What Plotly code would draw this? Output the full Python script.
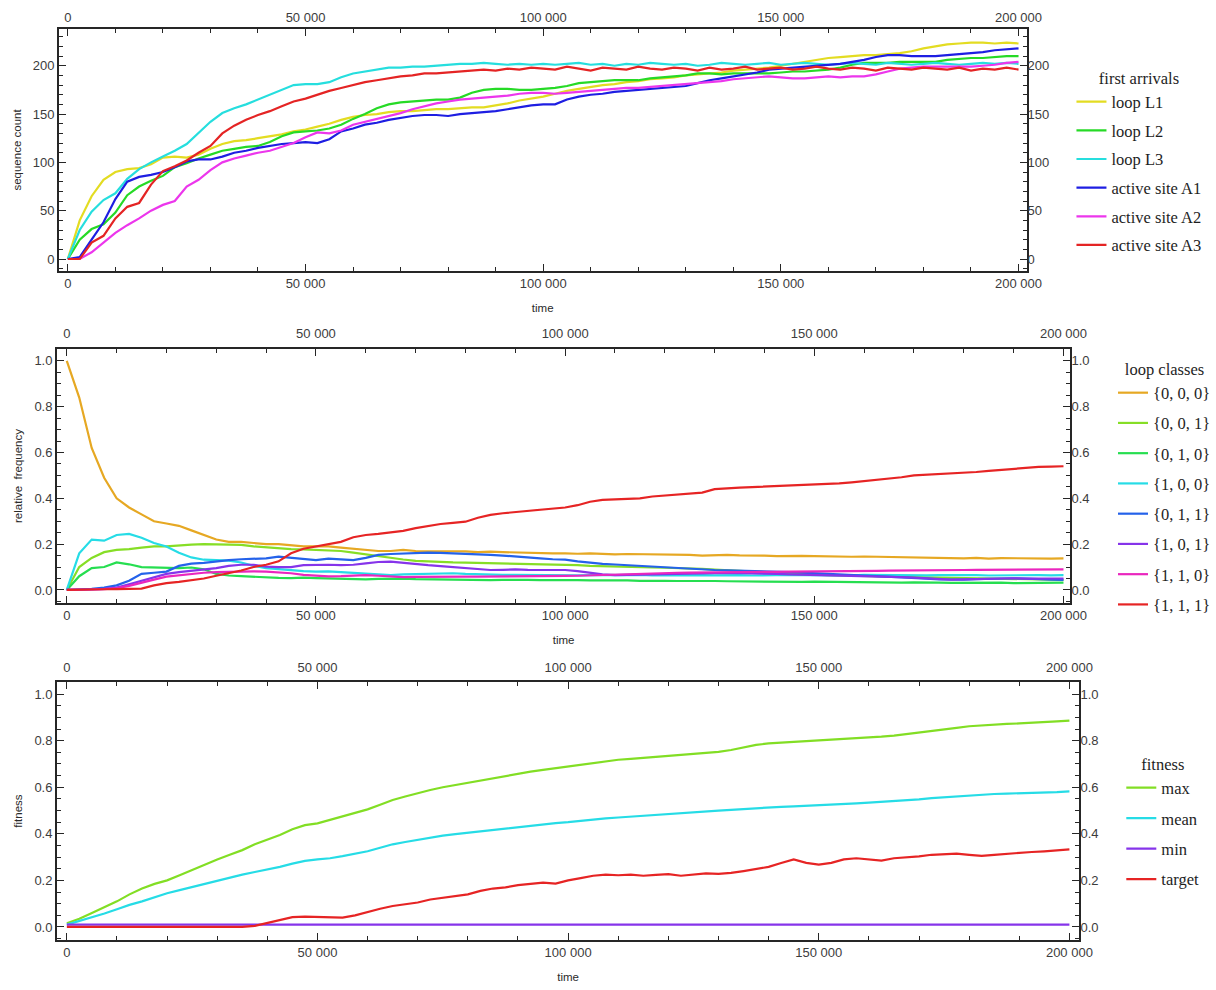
import plotly.graph_objects as go

# ---------------------------------------------------------------- data
TIME = list(range(0, 200001, 2500))

# panel 1: first arrivals (sequence count)
LOOP_L1 = [0, 40, 65, 82, 90, 93, 94, 98, 105, 106, 105, 108, 114, 119, 122, 123, 125, 127, 129, 132,
           134, 137, 140, 144, 147, 149, 150, 152, 153, 153, 154, 155, 155, 156, 157, 157, 159, 161, 164, 166,
           168, 171, 174, 176, 178, 180, 181, 183, 184, 186, 187, 188, 190, 191, 192, 193, 195, 196, 197, 198,
           200, 202, 204, 206, 208, 209, 210, 211, 211, 212, 213, 215, 218, 220, 222, 223, 224, 224, 223, 224,
           223]
LOOP_L2 = [0, 20, 31, 36, 48, 66, 75, 81, 86, 95, 99, 104, 108, 112, 114, 116, 117, 121, 127, 131,
           132, 133, 135, 139, 145, 150, 156, 160, 162, 163, 164, 165, 165, 167, 172, 175, 176, 176, 175, 175,
           176, 177, 179, 182, 183, 184, 185, 185, 185, 187, 188, 189, 190, 192, 192, 191, 192, 192, 192, 192,
           193, 194, 194, 195, 196, 198, 201, 203, 203, 203, 204, 204, 204, 204, 206, 207, 208, 208, 209, 210,
           210]
LOOP_L3 = [0, 30, 49, 61, 68, 83, 93, 100, 106, 112, 119, 130, 142, 151, 156, 160, 165, 170, 175, 180,
           181, 181, 183, 188, 192, 194, 196, 198, 198, 199, 199, 200, 201, 202, 202, 203, 202, 201, 202, 201,
           202, 201, 202, 203, 201, 202, 200, 202, 201, 203, 202, 201, 202, 200, 201, 203, 202, 201, 202, 203,
           201, 202, 203, 202, 201, 202, 203, 202, 201, 203, 202, 201, 202, 203, 202, 201, 202, 203, 202, 203,
           202]
SITE_A1 = [0, 2, 20, 38, 62, 80, 85, 87, 90, 95, 101, 103, 103, 106, 110, 112, 115, 117, 119, 120,
           121, 120, 124, 132, 135, 139, 141, 144, 146, 148, 149, 149, 148, 150, 151, 152, 153, 155, 157, 159,
           160, 160, 165, 168, 170, 171, 173, 174, 175, 176, 177, 178, 179, 182, 185, 187, 189, 191, 193, 196,
           197, 198, 199, 200, 201, 202, 204, 206, 209, 211, 211, 210, 210, 210, 211, 212, 213, 214, 216, 217,
           218]
SITE_A2 = [0, 0, 7, 17, 27, 35, 42, 50, 56, 60, 75, 82, 92, 100, 104, 107, 110, 112, 116, 120,
           126, 131, 130, 133, 139, 142, 145, 148, 151, 155, 158, 161, 163, 165, 166, 167, 168, 169, 171, 172,
           172, 171, 172, 173, 174, 175, 176, 177, 177, 178, 179, 180, 181, 182, 183, 184, 186, 187, 188, 189,
           188, 187, 187, 188, 189, 188, 189, 189, 191, 194, 197, 198, 199, 199, 199, 199, 199, 200, 201, 203,
           204]
SITE_A3 = [0, 0, 17, 24, 42, 54, 58, 77, 91, 96, 102, 110, 117, 130, 138, 144, 149, 153, 158, 163,
           166, 170, 174, 177, 180, 183, 185, 187, 189, 190, 192, 192, 193, 194, 195, 196, 195, 197, 196, 198,
           197, 196, 199, 197, 195, 198, 197, 196, 199, 197, 196, 198, 197, 195, 198, 196, 197, 199, 196, 197,
           198, 196, 197, 199, 197, 196, 198, 197, 195, 198, 197, 196, 198, 197, 196, 198, 195, 197, 196, 198,
           196]

# panel 2: loop classes (relative frequency)
C000 = [1.00, 0.84, 0.62, 0.49, 0.40, 0.36, 0.33, 0.30, 0.29, 0.28, 0.26, 0.24, 0.22, 0.21, 0.21, 0.205,
        0.20, 0.20, 0.195, 0.19, 0.19, 0.19, 0.185, 0.18, 0.175, 0.17, 0.17, 0.175, 0.17, 0.17, 0.168, 0.17,
        0.168, 0.165, 0.167, 0.165, 0.163, 0.162, 0.16, 0.16, 0.16, 0.158, 0.16, 0.157, 0.155, 0.157, 0.156,
        0.155, 0.157, 0.154, 0.153, 0.15, 0.152, 0.153, 0.151, 0.152, 0.15, 0.148, 0.15, 0.149, 0.148, 0.146,
        0.147, 0.145, 0.146, 0.145, 0.143, 0.145, 0.142, 0.143, 0.14, 0.141, 0.138, 0.14, 0.137, 0.139, 0.138,
        0.136, 0.138, 0.137, 0.138]
C001 = [0.0, 0.10, 0.14, 0.165, 0.175, 0.178, 0.185, 0.19, 0.19, 0.195, 0.198, 0.20, 0.20, 0.20, 0.197,
        0.19, 0.185, 0.18, 0.178, 0.177, 0.175, 0.175, 0.17, 0.163, 0.155, 0.148, 0.14, 0.133, 0.127, 0.124,
        0.122, 0.12, 0.119, 0.118, 0.116, 0.115, 0.114, 0.113, 0.112, 0.11, 0.11, 0.108, 0.105, 0.103, 0.101,
        0.10, 0.099, 0.098, 0.097, 0.096, 0.095, 0.092, 0.089, 0.086, 0.083, 0.081, 0.079, 0.076, 0.073, 0.07,
        0.067, 0.065, 0.064, 0.062, 0.061, 0.059, 0.058, 0.057, 0.056, 0.055, 0.054, 0.053, 0.052, 0.051,
        0.05, 0.049, 0.048, 0.047, 0.046, 0.045, 0.044]
C010 = [0.0, 0.06, 0.095, 0.10, 0.12, 0.112, 0.10, 0.098, 0.096, 0.095, 0.098, 0.09, 0.07, 0.063, 0.06,
        0.057, 0.055, 0.053, 0.052, 0.054, 0.052, 0.05, 0.047, 0.045, 0.046, 0.048, 0.05, 0.049, 0.047, 0.046,
        0.045, 0.044, 0.045, 0.044, 0.043, 0.044, 0.045, 0.044, 0.043, 0.044, 0.044, 0.043, 0.042, 0.043,
        0.041, 0.042, 0.040, 0.041, 0.040, 0.039, 0.040, 0.038, 0.039, 0.038, 0.037, 0.038, 0.036, 0.037,
        0.036, 0.035, 0.036, 0.035, 0.034, 0.035, 0.033, 0.034, 0.033, 0.032, 0.033, 0.031, 0.032, 0.031,
        0.032, 0.030, 0.031, 0.032, 0.030, 0.031, 0.030, 0.031, 0.032]
C100 = [0.0, 0.16, 0.22, 0.215, 0.24, 0.245, 0.228, 0.205, 0.19, 0.162, 0.142, 0.132, 0.13, 0.128, 0.12,
        0.105, 0.095, 0.09, 0.087, 0.082, 0.08, 0.081, 0.078, 0.075, 0.073, 0.068, 0.065, 0.068, 0.07, 0.072,
        0.073, 0.073, 0.07, 0.068, 0.067, 0.066, 0.066, 0.065, 0.066, 0.065, 0.065, 0.064, 0.065, 0.066,
        0.064, 0.065, 0.066, 0.064, 0.065, 0.064, 0.066, 0.065, 0.064, 0.066, 0.065, 0.063, 0.065, 0.064,
        0.066, 0.065, 0.064, 0.063, 0.065, 0.064, 0.066, 0.065, 0.064, 0.065, 0.063, 0.064, 0.065, 0.066,
        0.064, 0.065, 0.063, 0.064, 0.065, 0.066, 0.065, 0.064, 0.065]
C011 = [0.0, 0.002, 0.005, 0.01, 0.02, 0.04, 0.07, 0.075, 0.08, 0.105, 0.115, 0.118, 0.125, 0.13, 0.134,
        0.136, 0.138, 0.145, 0.14, 0.132, 0.13, 0.137, 0.135, 0.13, 0.14, 0.153, 0.157, 0.16, 0.162, 0.163,
        0.162, 0.16, 0.16, 0.157, 0.153, 0.15, 0.147, 0.142, 0.138, 0.134, 0.132, 0.125, 0.118, 0.114, 0.111,
        0.108, 0.104, 0.10, 0.098, 0.096, 0.094, 0.09, 0.087, 0.086, 0.085, 0.084, 0.083, 0.08, 0.078, 0.076,
        0.074, 0.072, 0.07, 0.066, 0.063, 0.06, 0.058, 0.055, 0.052, 0.049, 0.046, 0.044, 0.045, 0.047, 0.049,
        0.05, 0.051, 0.049, 0.046, 0.045, 0.044]
C101 = [0.0, 0.0, 0.002, 0.005, 0.01, 0.025, 0.04, 0.055, 0.07, 0.078, 0.084, 0.088, 0.095, 0.105, 0.11,
        0.11, 0.102, 0.10, 0.10, 0.108, 0.11, 0.11, 0.108, 0.11, 0.116, 0.122, 0.124, 0.118, 0.112, 0.108,
        0.104, 0.10, 0.095, 0.09, 0.087, 0.088, 0.09, 0.088, 0.087, 0.088, 0.087, 0.082, 0.075, 0.068, 0.065,
        0.066, 0.068, 0.07, 0.072, 0.073, 0.073, 0.072, 0.073, 0.074, 0.073, 0.073, 0.072, 0.07, 0.068, 0.067,
        0.066, 0.065, 0.064, 0.062, 0.06, 0.059, 0.058, 0.056, 0.054, 0.05, 0.047, 0.045, 0.046, 0.048, 0.05,
        0.052, 0.051, 0.049, 0.05, 0.051, 0.05]
C110 = [0.0, 0.0, 0.002, 0.004, 0.008, 0.018, 0.03, 0.045, 0.058, 0.064, 0.07, 0.075, 0.078, 0.08, 0.08,
        0.081, 0.08, 0.077, 0.073, 0.066, 0.063, 0.059, 0.06, 0.064, 0.065, 0.062, 0.058, 0.056, 0.057, 0.058,
        0.058, 0.057, 0.058, 0.058, 0.058, 0.059, 0.06, 0.06, 0.061, 0.061, 0.061, 0.062, 0.064, 0.065, 0.067,
        0.068, 0.07, 0.071, 0.073, 0.075, 0.076, 0.076, 0.077, 0.077, 0.078, 0.078, 0.079, 0.079, 0.08, 0.08,
        0.08, 0.081, 0.081, 0.082, 0.082, 0.083, 0.084, 0.084, 0.085, 0.086, 0.086, 0.087, 0.087, 0.088,
        0.088, 0.089, 0.089, 0.09, 0.089, 0.09, 0.09]
C111 = [0.0, 0.0, 0.002, 0.003, 0.004, 0.005, 0.006, 0.02, 0.03, 0.035, 0.042, 0.05, 0.062, 0.072, 0.085,
        0.10, 0.11, 0.125, 0.16, 0.18, 0.19, 0.20, 0.21, 0.23, 0.24, 0.245, 0.252, 0.258, 0.27, 0.28, 0.288,
        0.293, 0.298, 0.315, 0.328, 0.335, 0.34, 0.347, 0.35, 0.355, 0.36, 0.37, 0.385, 0.393, 0.395, 0.398,
        0.40, 0.408, 0.413, 0.418, 0.42, 0.425, 0.44, 0.445, 0.447, 0.449, 0.451, 0.454, 0.456, 0.458, 0.46,
        0.462, 0.465, 0.47, 0.475, 0.48, 0.487, 0.492, 0.50, 0.503, 0.505, 0.508, 0.51, 0.515, 0.52, 0.525,
        0.53, 0.533, 0.537, 0.538, 0.54]

# panel 3: fitness
FIT_MAX = [0.016, 0.035, 0.06, 0.085, 0.11, 0.14, 0.165, 0.185, 0.20, 0.222, 0.245, 0.27, 0.29, 0.31, 0.33,
           0.355, 0.375, 0.395, 0.42, 0.437, 0.445, 0.46, 0.475, 0.49, 0.505, 0.525, 0.545, 0.56, 0.575, 0.588,
           0.60, 0.61, 0.62, 0.63, 0.64, 0.65, 0.66, 0.667, 0.675, 0.682, 0.69, 0.697, 0.705, 0.713, 0.718,
           0.722, 0.726, 0.73, 0.733, 0.738, 0.742, 0.746, 0.752, 0.76, 0.772, 0.782, 0.788, 0.791, 0.795,
           0.798, 0.80, 0.803, 0.806, 0.81, 0.813, 0.817, 0.822, 0.828, 0.835, 0.842, 0.848, 0.855, 0.862,
           0.866, 0.869, 0.872, 0.874, 0.876, 0.879, 0.883, 0.886]
FIT_MEAN = [0.01, 0.025, 0.04, 0.058, 0.076, 0.095, 0.11, 0.128, 0.145, 0.158, 0.172, 0.186, 0.20, 0.213,
            0.225, 0.236, 0.246, 0.258, 0.272, 0.284, 0.29, 0.295, 0.304, 0.315, 0.325, 0.34, 0.355, 0.365,
            0.375, 0.385, 0.392, 0.399, 0.405, 0.412, 0.418, 0.425, 0.43, 0.436, 0.441, 0.446, 0.45, 0.456,
            0.462, 0.466, 0.47, 0.474, 0.478, 0.483, 0.487, 0.49, 0.494, 0.497, 0.50, 0.503, 0.507, 0.51, 0.513,
            0.516, 0.518, 0.52, 0.522, 0.525, 0.528, 0.531, 0.534, 0.537, 0.54, 0.544, 0.548, 0.553, 0.557,
            0.562, 0.566, 0.569, 0.571, 0.573, 0.574, 0.575, 0.577, 0.579, 0.582]
FIT_MIN = [0.01, 0.01, 0.01, 0.01, 0.01, 0.01, 0.01, 0.01, 0.01, 0.01, 0.01, 0.01, 0.01, 0.01, 0.01, 0.01,
           0.01, 0.01, 0.01, 0.01, 0.01, 0.01, 0.01, 0.01, 0.01, 0.01, 0.01, 0.01, 0.01, 0.01, 0.01, 0.01,
           0.01, 0.01, 0.01, 0.01, 0.01, 0.01, 0.01, 0.01, 0.01, 0.01, 0.01, 0.01, 0.01, 0.01, 0.01, 0.01,
           0.01, 0.01, 0.01, 0.01, 0.01, 0.01, 0.01, 0.01, 0.01, 0.01, 0.01, 0.01, 0.01, 0.01, 0.01, 0.01,
           0.01, 0.01, 0.01, 0.01, 0.01, 0.01, 0.01, 0.01, 0.01, 0.01, 0.01, 0.01, 0.01, 0.01, 0.01, 0.01,
           0.01]
FIT_TARGET = [0.0, 0.0, 0.0, 0.0, 0.0, 0.0, 0.0, 0.0, 0.0, 0.0, 0.0, 0.0, 0.0, 0.0, 0.0, 0.005, 0.018,
              0.03, 0.042, 0.044, 0.042, 0.043, 0.04, 0.05, 0.065, 0.078, 0.09, 0.098, 0.105, 0.118, 0.125,
              0.135, 0.14, 0.155, 0.165, 0.17, 0.18, 0.185, 0.19, 0.186, 0.20, 0.21, 0.22, 0.225, 0.222, 0.225,
              0.22, 0.224, 0.227, 0.22, 0.225, 0.23, 0.228, 0.232, 0.24, 0.248, 0.258, 0.275, 0.29, 0.275,
              0.268, 0.275, 0.29, 0.295, 0.29, 0.285, 0.295, 0.298, 0.303, 0.31, 0.312, 0.315, 0.31, 0.305,
              0.31, 0.315, 0.318, 0.322, 0.325, 0.328, 0.333]

PANELS = [
    dict(title="first arrivals", ylabel="sequence count",
         names=["loop L1", "loop L2", "loop L3", "active site A1", "active site A2", "active site A3"],
         series=[LOOP_L1, LOOP_L2, LOOP_L3, SITE_A1, SITE_A2, SITE_A3],
         colors=["#E3DC22", "#26DA26", "#26DEDE", "#1E1EE2", "#EC36EC", "#E42424"]),
    dict(title="loop classes", ylabel="relative  frequency",
         names=["{0, 0, 0}", "{0, 0, 1}", "{0, 1, 0}", "{1, 0, 0}",
                "{0, 1, 1}", "{1, 0, 1}", "{1, 1, 0}", "{1, 1, 1}"],
         series=[C000, C001, C010, C100, C011, C101, C110, C111],
         colors=["#E6A823", "#86DE26", "#26DE50", "#26DCE6", "#2462EA", "#8634EA", "#EA26BE", "#E62424"]),
    dict(title="fitness", ylabel="fitness",
         names=["max", "mean", "min", "target"],
         series=[FIT_MAX, FIT_MEAN, FIT_MIN, FIT_TARGET],
         colors=["#82DE24", "#26DCE6", "#8634EA", "#E62424"]),
]
for p in PANELS:
    for s in p["series"]:
        assert len(s) == len(TIME), (p["title"], len(s))

# ---------------------------------------------------------------- layout geometry
W, H = 1216, 990


def px_x(v):
    return v / W


def px_y(v):
    return 1 - v / H


GEOM = [
    dict(x0=59, x1=1030, y0=29, y1=271, xr=[-1900, 201700], yr=[-12.4, 238],
         ytick=[0, 50, 100, 150, 200], yminor=10, yfmt="d", top_pad=3,
         leg_x=1075, leg_y=63, gap=4.2),
    dict(x0=57, x1=1074, y0=349, y1=603, xr=[-2000, 201400], yr=[-0.057, 1.052],
         ytick=[0, 0.2, 0.4, 0.6, 0.8, 1.0], yminor=0.05, yfmt=".1f", top_pad=7,
         leg_x=1117, leg_y=354, gap=5.8),
    dict(x0=57, x1=1083, y0=682, y1=940, xr=[-2000, 202000], yr=[-0.056, 1.052],
         ytick=[0, 0.2, 0.4, 0.6, 0.8, 1.0], yminor=0.05, yfmt=".1f", top_pad=6,
         leg_x=1125, leg_y=749, gap=6),
]

TICK_FONT = dict(family="Liberation Sans, Arial, sans-serif", size=13, color="#3c3c3c")
TITLE_FONT = dict(family="Liberation Sans, Arial, sans-serif", size=11.5, color="#2a2a2a")
LEG_FONT = dict(family="Liberation Serif, Times New Roman, serif", size=16.5, color="#1e1e1e")
FRAME = "#262626"
XTICKS = [0, 50000, 100000, 150000, 200000]

fig = go.Figure()
layout = dict(width=W, height=H, margin=dict(l=0, r=0, t=0, b=0),
              paper_bgcolor="white", plot_bgcolor="white",
              separators=". ", showlegend=True)


def sx(i):
    return "" if i == 1 else str(i)


for k, (p, g) in enumerate(zip(PANELS, GEOM)):
    xb, xt = 2 * k + 1, 2 * k + 2          # bottom / top x-axis ids
    yl, yr = 2 * k + 1, 2 * k + 2          # left / right y-axis ids
    leg = "legend" if k == 0 else f"legend{k + 1}"

    for name, vals, col in zip(p["names"], p["series"], p["colors"]):
        fig.add_trace(go.Scatter(
            x=TIME, y=vals, name=name, mode="lines",
            line=dict(color=col, width=2.2),
            xaxis=f"x{sx(xb)}", yaxis=f"y{sx(yl)}",
            legend=leg, legendgroup=f"{k}-{name}"))

    # empty trace so the mirrored top/right label axes get their own subplot
    fig.add_trace(go.Scatter(x=[None], y=[None], mode="lines", showlegend=False,
                             hoverinfo="skip", xaxis=f"x{xt}", yaxis=f"y{yr}"))

    dom_x = [px_x(g["x0"]), px_x(g["x1"])]
    dom_y = [px_y(g["y1"]), px_y(g["y0"])]
    common_x = dict(domain=dom_x, range=g["xr"], tickmode="array", tickvals=XTICKS, tickformat=",d",
                    ticks="inside", ticklen=7, tickwidth=1.4, tickcolor=FRAME,
                    minor=dict(dtick=10000, tick0=0, ticks="inside", ticklen=4, tickwidth=1.1, tickcolor=FRAME),
                    tickfont=TICK_FONT, showgrid=False, zeroline=False, automargin=False)
    common_y = dict(domain=dom_y, range=g["yr"], tickmode="array", tickvals=g["ytick"], tickformat=g["yfmt"],
                    ticks="inside", ticklen=7, tickwidth=1.4, tickcolor=FRAME,
                    minor=dict(dtick=g["yminor"], tick0=0, ticks="inside", ticklen=4, tickwidth=1.1,
                               tickcolor=FRAME),
                    tickfont=TICK_FONT, showgrid=False, zeroline=False, automargin=False)

    layout[f"xaxis{sx(xb)}"] = dict(common_x, anchor=f"y{sx(yl)}", side="bottom",
                                    showline=True, mirror=True, linecolor=FRAME, linewidth=1.5,
                                    title=dict(text="time", font=TITLE_FONT, standoff=14))
    layout[f"xaxis{xt}"] = dict(common_x, anchor=f"y{yr}", side="top", ticklabelstandoff=g["top_pad"],
                                overlaying=f"x{sx(xb)}", showline=False)
    layout[f"yaxis{sx(yl)}"] = dict(common_y, anchor=f"x{sx(xb)}", side="left",
                                    showline=True, mirror=True, linecolor=FRAME, linewidth=1.5,
                                    title=dict(text=p["ylabel"], font=TITLE_FONT, standoff=9))
    layout[f"yaxis{yr}"] = dict(common_y, anchor=f"x{xt}", side="right",
                                overlaying=f"y{sx(yl)}", showline=False)

    layout[leg] = dict(x=px_x(g["leg_x"]), y=px_y(g["leg_y"]), xanchor="left", yanchor="top",
                       font=LEG_FONT, bgcolor="rgba(0,0,0,0)", tracegroupgap=g["gap"],
                       title=dict(text=p["title"], side="top center", font=LEG_FONT))

fig.update_layout(**layout)
fig.write_html("out.html")
